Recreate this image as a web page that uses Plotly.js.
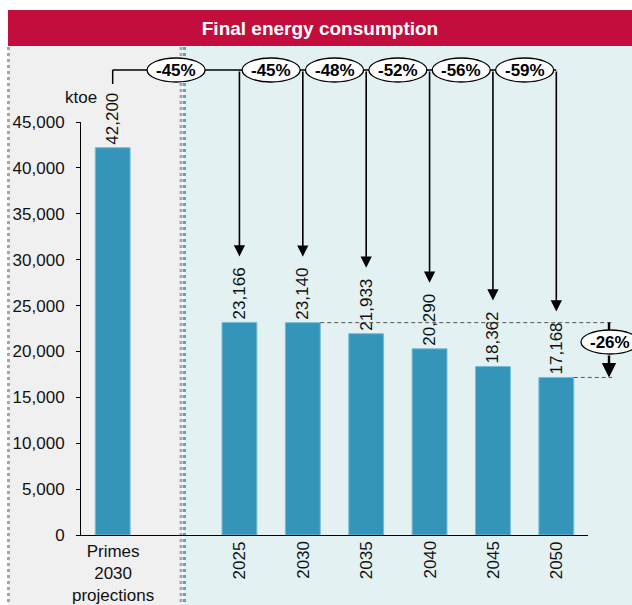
<!DOCTYPE html>
<html>
<head>
<meta charset="utf-8">
<script src="https://cdn.plot.ly/plotly-3.0.1.min.js"></script>
<style>html,body{margin:0;padding:0;background:#fff}#chart{width:632px;height:605px}</style>
</head>
<body>
<div id="chart"></div>
<script>
// ---- data ----
const categories = ['Primes<br>2030<br>projections', '2025', '2030', '2035', '2040', '2045', '2050'];
const values = [42200, 23166, 23140, 21933, 20290, 18362, 17168];
const valueLabels = ['42,200', '23,166', '23,140', '21,933', '20,290', '18,362', '17,168'];
const changeVsPrimes = ['-45%', '-45%', '-48%', '-52%', '-56%', '-59%'];
const change2030to2050 = '-26%';
const yTickVals = [0, 5000, 10000, 15000, 20000, 25000, 30000, 35000, 40000, 45000];
const unitLabel = 'ktoe';
const chartTitle = 'Final energy consumption';

// ---- layout helpers ----
const W = 632, H = 605, L = 81, R = 44, T = 122, B = 70;
const plotW = W - L - R, plotH = H - T - B;
const yMax = 45000;
const FONT = 'Liberation Sans, Arial, sans-serif';
const xpos = categories.map((c, i) => (i === 0 ? 0 : i + 1)); // empty slot after first bar
const BARW = 0.55;
const pX = p => (p - L) / plotW;          // pixel x -> paper
const pY = p => (H - B - p) / plotH;      // pixel y -> paper
const dY = p => yMax * (H - B - p) / plotH; // pixel y -> data
const pxPerUnit = plotH / yMax;

const bracketY = 70;
const EW = 29, EH = 12; // ellipse half sizes (px)
const shapes = [];
const annotations = [];

// backgrounds
shapes.push({type: 'rect', xref: 'paper', yref: 'paper', layer: 'below',
  x0: pX(8), x1: pX(182.5), y0: pY(H), y1: pY(46), fillcolor: '#F0F0F0', line: {width: 0}});
shapes.push({type: 'rect', xref: 'paper', yref: 'paper', layer: 'below',
  x0: pX(183.5), x1: pX(W + 2), y0: pY(H), y1: pY(46), fillcolor: '#E3F1F3', line: {width: 0}});
shapes.push({type: 'rect', xref: 'paper', yref: 'paper', layer: 'below',
  x0: pX(8), x1: pX(W + 2), y0: pY(46), y1: pY(10), fillcolor: '#C20D3D', line: {width: 0}});
// dotted separators
[[8.5, '#A6A6A6'], [181, '#A6A6A6'], [184.5, '#4BAFC4']].forEach(([x, c]) => {
  shapes.push({type: 'line', xref: 'paper', yref: 'paper', layer: 'below',
    x0: pX(x), x1: pX(x), y0: pY(47), y1: pY(H), line: {color: c, width: 3, dash: 'dot'}});
});

// top bracket
shapes.push({type: 'line', xref: 'x', yref: 'paper', x0: xpos[0], x1: xpos[0],
  y0: pY(84), y1: pY(bracketY), line: {color: '#000', width: 1.5}});
shapes.push({type: 'line', xref: 'x', yref: 'paper', x0: xpos[0], x1: xpos[xpos.length - 1],
  y0: pY(bracketY), y1: pY(bracketY), line: {color: '#000', width: 1.5}});

// arrows + ellipses
const tipGapPx = 66;
for (let i = 1; i < values.length; i++) {
  annotations.push({x: xpos[i], y: values[i] + tipGapPx / pxPerUnit, xref: 'x', yref: 'y',
    axref: 'x', ax: xpos[i], ayref: 'y', ay: dY(bracketY), text: '', showarrow: true,
    arrowhead: 2, arrowsize: 1.4, arrowwidth: 1.6, arrowcolor: '#000'});
  const mid = (xpos[i - 1] + xpos[i]) / 2;
  shapes.push({type: 'circle', xref: 'x', yref: 'paper', xsizemode: 'pixel', ysizemode: 'pixel',
    xanchor: mid, yanchor: pY(bracketY), x0: -EW, x1: EW, y0: -EH, y1: EH,
    fillcolor: '#fff', line: {color: '#000', width: 1.3}});
  annotations.push({x: mid, y: pY(bracketY), xref: 'x', yref: 'paper', showarrow: false,
    text: '<b>' + changeVsPrimes[i - 1] + '</b>', font: {family: FONT, size: 17, color: '#000'},
    xanchor: 'center', yanchor: 'middle'});
}

// 2030 -> 2050 bracket
const i30 = 2, i50 = values.length - 1;
const rightX = 612, arrX = 609, ellCY = 342;
[i30, i50].forEach(i => {
  shapes.push({type: 'line', xref: 'paper', yref: 'y',
    x0: (xpos[i] + BARW / 2 + 0.5) / 8, x1: pX(rightX), y0: values[i], y1: values[i],
    line: {color: '#555', width: 1, dash: '4px,3px'}});
});
// upper shaft (behind ellipse)
shapes.push({type: 'line', xref: 'paper', yref: 'y', x0: pX(arrX), x1: pX(arrX),
  y0: values[i30], y1: dY(ellCY), line: {color: '#000', width: 2.4}});
// lower part with arrowhead
annotations.push({x: pX(arrX), y: values[i50], xref: 'paper', yref: 'y', axref: 'pixel', ax: 0,
  ayref: 'y', ay: dY(ellCY + EH), text: '', showarrow: true,
  arrowhead: 2, arrowsize: 1.2, arrowwidth: 2.4, arrowcolor: '#000'});
shapes.push({type: 'circle', xref: 'paper', yref: 'paper', xsizemode: 'pixel', ysizemode: 'pixel',
  xanchor: pX(610), yanchor: pY(ellCY), x0: -EW, x1: EW, y0: -EH, y1: EH,
  fillcolor: '#fff', line: {color: '#000', width: 1.3}});
annotations.push({x: pX(610), y: pY(ellCY), xref: 'paper', yref: 'paper', showarrow: false,
  text: '<b>' + change2030to2050 + '</b>', font: {family: FONT, size: 17, color: '#000'},
  xanchor: 'center', yanchor: 'middle'});

// category labels
annotations.push({x: xpos[0], y: 0, xref: 'x', yref: 'paper', showarrow: false, yanchor: 'top',
  yshift: -5, text: categories[0], font: {family: FONT, size: 17, color: '#111'}});
for (let i = 1; i < categories.length; i++) {
  annotations.push({x: xpos[i], y: 0, xref: 'x', yref: 'paper', showarrow: false, yanchor: 'top',
    yshift: -4, textangle: -90, text: categories[i], font: {family: FONT, size: 17, color: '#111'}});
}
// unit label
annotations.push({x: 0, y: pY(97), xref: 'paper', yref: 'paper', showarrow: false,
  xanchor: 'center', yanchor: 'middle', text: unitLabel, font: {family: FONT, size: 17, color: '#111'}});

const trace = {
  type: 'bar', x: xpos, y: values, width: BARW,
  marker: {color: '#3594BA', line: {color: '#78BCD6', width: 1}},
  text: valueLabels, textposition: 'outside', textangle: -90, constraintext: 'none',
  textfont: {family: FONT, size: 17, color: '#111'}, cliponaxis: false, hoverinfo: 'none'
};

const layout = {
  width: W, height: H,
  margin: {l: L, r: R, t: T, b: B, pad: 0},
  paper_bgcolor: '#fff', plot_bgcolor: 'rgba(0,0,0,0)',
  showlegend: false,
  font: {family: FONT, size: 17, color: '#111'},
  title: {text: '<b>' + chartTitle + '</b>', font: {family: FONT, size: 19, color: '#fff'},
    xref: 'container', yref: 'container', x: 320 / W, xanchor: 'center', y: 1 - 28 / H, yanchor: 'middle'},
  xaxis: {range: [-0.5, 7.5], showticklabels: false, ticks: '', showgrid: false, zeroline: false,
    showline: true, linecolor: '#000', linewidth: 1.3, fixedrange: true},
  yaxis: {range: [0, yMax], tickvals: yTickVals, tickformat: ',', ticks: 'outside', ticklen: 4,
    tickcolor: '#000', showline: true, linecolor: '#000', linewidth: 1, showgrid: false, zeroline: false,
    tickfont: {family: FONT, size: 17, color: '#111'}, ticklabelstandoff: 8, fixedrange: true},
  shapes: shapes,
  annotations: annotations,
  bargap: 0
};

Plotly.newPlot('chart', [trace], layout, {displayModeBar: false, staticPlot: true});
</script>
</body>
</html>
